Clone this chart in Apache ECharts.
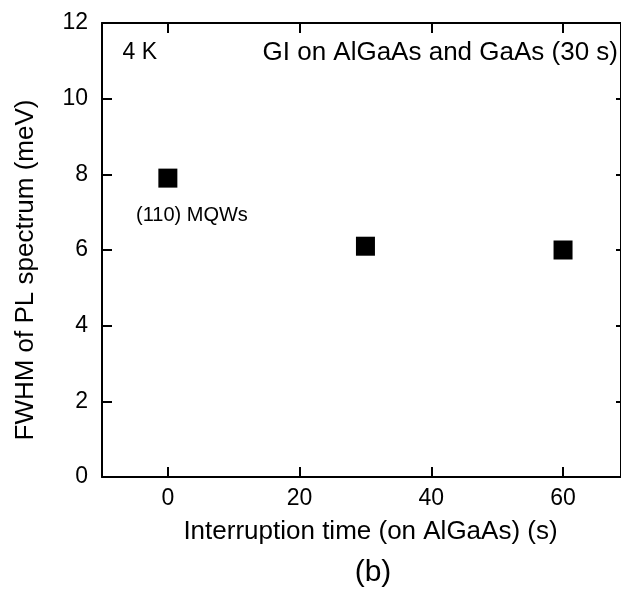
<!DOCTYPE html>
<html>
<head>
<meta charset="utf-8">
<script src="https://cdn.jsdelivr.net/npm/echarts@6/dist/echarts.min.js"></script>
<style>
  html, body { margin: 0; padding: 0; background: #fff; }
  #chart { width: 621px; height: 597px; }
</style>
</head>
<body>
<div id="chart"></div>
<script>
// Interruption time on AlGaAs (s) and PL linewidth (meV) at 4 K
const interruptionTime = [0, 30, 60];
const fwhm = [7.9, 6.1, 6.0];
const xTickValues = [0, 20, 40, 60];
const yTickValues = [0, 2, 4, 6, 8, 10, 12];

const FONT = 'Liberation Sans, Arial, sans-serif';
const INK = '#000';

const chart = echarts.init(document.getElementById('chart'), null, { renderer: 'canvas' });

const baseX = {
  type: 'value',
  min: -10,
  max: 68.8,
  splitLine: { show: false },
  axisLine: { show: true, onZero: false, lineStyle: { color: INK, width: 2 } },
  axisTick: { show: true, inside: true, length: 10, customValues: xTickValues, lineStyle: { color: INK, width: 2 } }
};

const baseY = {
  type: 'value',
  min: 0, max: 12, interval: 2,
  splitLine: { show: false },
  axisLine: { show: true, onZero: false, lineStyle: { color: INK, width: 2 } }
};

chart.setOption({
  animation: false,
  backgroundColor: '#fff',
  // the right frame edge sits right at the canvas border
  grid: { left: 102, right: -0.5, top: 23, bottom: 120, containLabel: false },
  xAxis: [
    Object.assign({}, baseX, {
      position: 'bottom',
      axisLabel: { show: true, customValues: xTickValues, margin: 10, fontFamily: FONT, fontSize: 23, color: INK }
    }),
    Object.assign({}, baseX, {
      position: 'top',
      axisLabel: { show: false }
    })
  ],
  yAxis: [
    Object.assign({}, baseY, {
      position: 'left',
      axisTick: { show: true, inside: true, length: 10, lineStyle: { color: INK, width: 2 } },
      axisLabel: { margin: 14, fontFamily: FONT, fontSize: 23, color: INK,
                   customValues: yTickValues }
    }),
    Object.assign({}, baseY, {
      position: 'right',
      axisTick: { show: true, inside: true, length: 5, lineStyle: { color: INK, width: 2 } },
      axisLabel: { show: false }
    })
  ],
  series: [{
    type: 'scatter',
    xAxisIndex: 0,
    yAxisIndex: 0,
    symbol: 'rect',
    symbolSize: 19,
    itemStyle: { color: INK, opacity: 1 },
    data: interruptionTime.map((t, i) => [t, fwhm[i]])
  }],
  graphic: [
    // axis titles
    { type: 'text', x: 370.5, y: 532,
      style: { text: 'Interruption time (on AlGaAs) (s)', font: '26px ' + FONT, fill: INK,
               textAlign: 'center', textVerticalAlign: 'middle' } },
    { type: 'text', x: 26, y: 270, rotation: Math.PI / 2,
      style: { text: 'FWHM of PL spectrum (meV)', font: '26px ' + FONT, fill: INK,
               textAlign: 'center', textVerticalAlign: 'middle' } },
    // in-plot notes
    { type: 'text', x: 122.5, y: 53,
      style: { text: '4 K', font: '23px ' + FONT, fill: INK, textVerticalAlign: 'middle' } },
    { type: 'text', x: 618, y: 53,
      style: { text: 'GI on AlGaAs and GaAs (30 s)', font: '26px ' + FONT, fill: INK,
               textAlign: 'right', textVerticalAlign: 'middle' } },
    { type: 'text', x: 136, y: 215,
      style: { text: '(110) MQWs', font: '20px ' + FONT, fill: INK, textVerticalAlign: 'middle' } },
    // panel label
    { type: 'text', x: 373, y: 573,
      style: { text: '(b)', font: '30px ' + FONT, fill: INK,
               textAlign: 'center', textVerticalAlign: 'middle' } }
  ]
});
</script>
</body>
</html>
